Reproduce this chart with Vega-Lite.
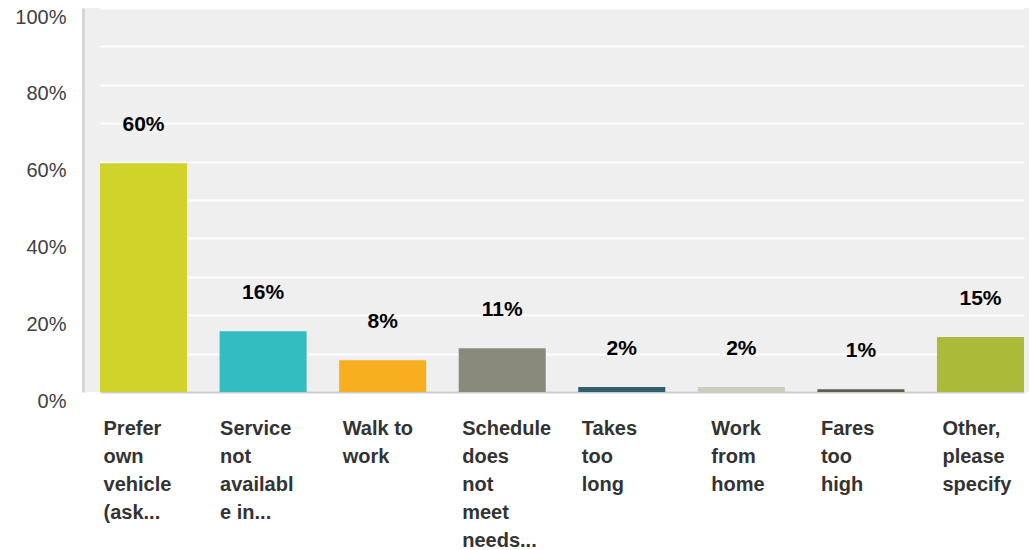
{
  "$schema": "https://vega.github.io/schema/vega-lite/v6.json",
  "width": 946,
  "height": 384,
  "autosize": {"type": "none"},
  "padding": {"left": 83, "top": 8, "right": 0, "bottom": 158},
  "background": "white",
  "config": {
    "font": "Liberation Sans",
    "view": {"fill": "#efefef", "stroke": null}
  },
  "data": {
    "values": [
      {"category": "Prefer own vehicle (ask...", "value": 59.6, "label": "60%"},
      {"category": "Service not available in...", "value": 15.8, "label": "16%"},
      {"category": "Walk to work", "value": 8.3, "label": "8%"},
      {"category": "Schedule does not meet needs...", "value": 11.4, "label": "11%"},
      {"category": "Takes too long", "value": 1.3, "label": "2%"},
      {"category": "Work from home", "value": 1.3, "label": "2%"},
      {"category": "Fares too high", "value": 0.7, "label": "1%"},
      {"category": "Other, please specify", "value": 14.3, "label": "15%"}
    ]
  },
  "encoding": {
    "x": {
      "field": "category",
      "type": "nominal",
      "sort": null,
      "scale": {"range": [17, 941], "paddingInner": 0.272, "paddingOuter": 0},
      "axis": {
        "title": null,
        "ticks": false,
        "domainColor": "#cccccc",
        "domainWidth": 2,
        "labelAngle": 0,
        "labelAlign": "left",
        "labelBaseline": "top",
        "labelOffset": {
          "condition": [
            {"test": "datum.label == 'Work from home'", "value": -30},
            {"test": "datum.label == 'Service not available in...'", "value": -43},
            {"test": "datum.label == 'Other, please specify'", "value": -38}
          ],
          "value": -40
        },
        "labelPadding": 26,
        "labelFontSize": 20,
        "labelFontWeight": "bold",
        "labelColor": "#333333",
        "labelLineHeight": 28,
        "labelLimit": 300,
        "labelOverlap": false,
        "labelExpr": "datum.label == 'Service not available in...' ? ['Service', 'not', 'availabl', 'e in...'] : datum.label == 'Walk to work' ? ['Walk to', 'work'] : split(datum.label, ' ')"
      }
    },
    "y": {
      "field": "value",
      "type": "quantitative",
      "scale": {"domain": [0, 100], "nice": false},
      "axis": {
        "title": null,
        "values": [0, 10, 20, 30, 40, 50, 60, 70, 80, 90, 100],
        "labelExpr": "datum.value % 20 == 0 ? datum.value + '%' : ''",
        "ticks": false,
        "grid": true,
        "gridColor": "#ffffff",
        "gridWidth": 2,
        "domainColor": "#d6d6d6",
        "domainWidth": 3,
        "labelFontSize": 20,
        "labelColor": "#404040",
        "labelPadding": 17,
        "labelOffset": 9
      }
    }
  },
  "layer": [
    {
      "mark": {"type": "bar"},
      "encoding": {
        "color": {
          "field": "category",
          "type": "nominal",
          "sort": null,
          "legend": null,
          "scale": {
            "domain": ["Prefer own vehicle (ask...", "Service not available in...", "Walk to work", "Schedule does not meet needs...", "Takes too long", "Work from home", "Fares too high", "Other, please specify"],
            "range": ["#d0d42a", "#33bdc0", "#f7af1f", "#8a8a7a", "#2f5f6c", "#cdcdc0", "#5f5f50", "#a9bb38"]
          }
        }
      }
    },
    {
      "mark": {"type": "text", "fontSize": 21, "fontWeight": "bold", "color": "#000000", "baseline": "middle", "dy": -38},
      "encoding": {"text": {"field": "label"}}
    }
  ]
}
